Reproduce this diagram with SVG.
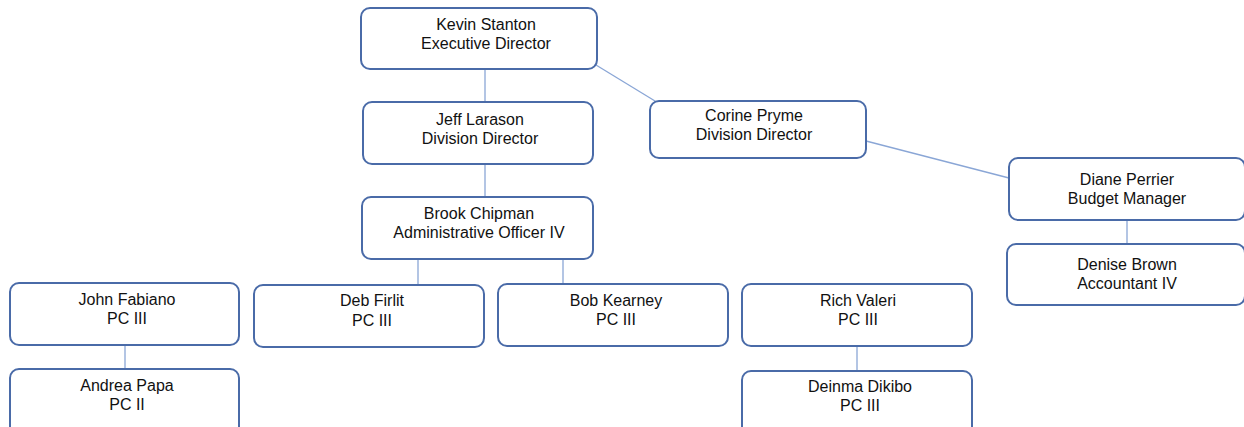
<svg xmlns="http://www.w3.org/2000/svg" width="1244" height="427" viewBox="0 0 1244 427">
<style>
.box{fill:#fff;stroke:#4a6ba8;stroke-width:2}
.t{font-family:"Liberation Sans",Arial,sans-serif;font-size:16px;fill:#111;text-anchor:middle}
.c{stroke:#8aa6d6;stroke-width:1.3;fill:none}
</style>
<rect width="1244" height="427" fill="#fff"/>
<g id="connectors">
<line class="c" x1="485" y1="69" x2="485" y2="102"/>
<line class="c" x1="596" y1="65" x2="655" y2="101"/>
<line class="c" x1="485" y1="164" x2="485" y2="197"/>
<line class="c" x1="418" y1="259" x2="418" y2="285"/>
<line class="c" x1="563" y1="259" x2="563" y2="284"/>
<line class="c" x1="866" y1="141" x2="1009" y2="178"/>
<line class="c" x1="1127" y1="220" x2="1127" y2="244"/>
<line class="c" x1="125" y1="342" x2="125" y2="369"/>
<line class="c" x1="857" y1="344" x2="857" y2="371"/>
</g>
<g id="kevin"><rect class="box" x="361" y="8" width="236" height="61" rx="9"/><text class="t" x="486" y="30">Kevin Stanton</text><text class="t" x="486" y="49">Executive Director</text></g>
<g id="jeff"><rect class="box" x="363" y="102" width="230" height="62" rx="9"/><text class="t" x="480" y="125">Jeff Larason</text><text class="t" x="480" y="144">Division Director</text></g>
<g id="corine"><rect class="box" x="650" y="101" width="216" height="57" rx="9"/><text class="t" x="754" y="121">Corine Pryme</text><text class="t" x="754" y="140">Division Director</text></g>
<g id="brook"><rect class="box" x="362" y="197" width="231" height="62" rx="9"/><text class="t" x="479" y="219">Brook Chipman</text><text class="t" x="479" y="238">Administrative Officer IV</text></g>
<g id="diane"><rect class="box" x="1009" y="158" width="236" height="62" rx="9"/><text class="t" x="1127" y="185">Diane Perrier</text><text class="t" x="1127" y="204">Budget Manager</text></g>
<g id="denise"><rect class="box" x="1007" y="244" width="238" height="61" rx="9"/><text class="t" x="1127" y="270">Denise Brown</text><text class="t" x="1127" y="289">Accountant IV</text></g>
<g id="john"><rect class="box" x="10" y="283" width="229" height="62" rx="9"/><text class="t" x="127" y="305">John Fabiano</text><text class="t" x="127" y="324">PC III</text></g>
<g id="deb"><rect class="box" x="254" y="285" width="230" height="62" rx="9"/><text class="t" x="372" y="306">Deb Firlit</text><text class="t" x="372" y="326">PC III</text></g>
<g id="bob"><rect class="box" x="498" y="284" width="230" height="62" rx="9"/><text class="t" x="616" y="306">Bob Kearney</text><text class="t" x="616" y="325">PC III</text></g>
<g id="rich"><rect class="box" x="742" y="284" width="230" height="62" rx="9"/><text class="t" x="858" y="306">Rich Valeri</text><text class="t" x="858" y="325">PC III</text></g>
<g id="andrea"><rect class="box" x="10" y="369" width="229" height="66" rx="9"/><text class="t" x="127" y="391">Andrea Papa</text><text class="t" x="127" y="410">PC II</text></g>
<g id="deinma"><rect class="box" x="742" y="371" width="230" height="66" rx="9"/><text class="t" x="860" y="392">Deinma Dikibo</text><text class="t" x="860" y="411">PC III</text></g>
</svg>
